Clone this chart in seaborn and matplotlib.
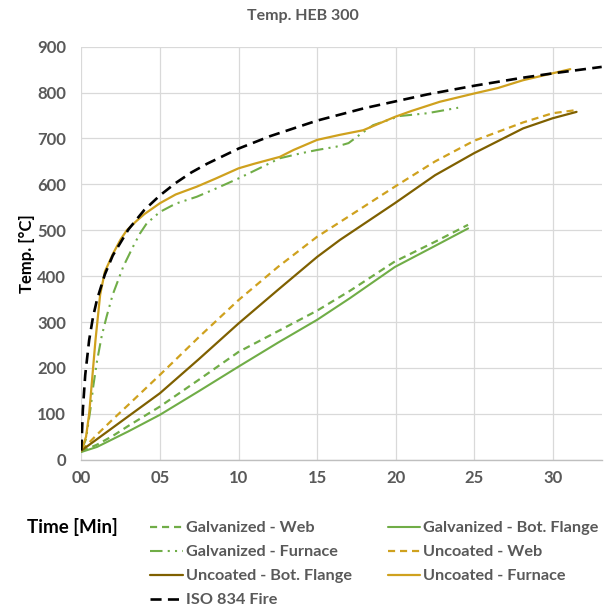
import matplotlib
matplotlib.use("Agg")
import matplotlib.pyplot as plt
import seaborn as sns
import numpy as np

# ---------------- data ----------------
t_gw = [0, 1, 2, 3, 5, 7.5, 10, 12.5, 15, 17.08, 19.94, 22.5, 24.6]
T_gw = [18, 33, 52, 74, 116, 175, 235, 280, 325, 368, 432, 475, 512]

t_gbf = [0, 1, 2, 3, 5, 7.5, 10, 12.5, 15, 17.08, 19.94, 22.5, 24.6]
T_gbf = [17, 28, 45, 62, 98, 150, 203, 255, 305, 352, 420, 466, 504]

t_gf = [0, 0.3, 0.6, 0.76, 1.0, 1.3, 1.61, 2.0, 2.67, 3.3, 3.73, 4.16, 5, 6, 7.34,
        8.5, 10, 11.5, 12.63, 14, 15, 16.2, 17.0, 17.7, 18.56, 20.26, 22, 23.97]
T_gf = [20, 45, 115, 160, 215, 270, 312, 360, 421, 465, 493, 515, 540, 558, 573,
        590, 613, 638, 657, 668, 675, 682, 690, 708, 729, 749, 755, 767]

t_uw = [0, 1, 2, 3, 5, 7.5, 10, 12.5, 15, 16.5, 19.94, 22.5, 24.98, 28.1, 29.97, 31.5]
T_uw = [20, 55, 88, 120, 185, 268, 348, 420, 486, 519, 595, 650, 695, 735, 755, 762]

t_ubf = [0, 1, 2, 3, 5, 7.5, 10, 12.5, 15, 16.45, 19.94, 22.5, 24.98, 28.1, 29.97, 31.5]
T_ubf = [20, 45, 70, 95, 145, 220, 297, 370, 442, 479, 559, 620, 668, 722, 744, 758]

t_uf = [0, 0.3, 0.5, 0.7, 0.9, 1.2, 1.5, 2.03, 2.5, 2.89, 3.5, 4, 5, 6, 7.34, 8.5,
        10, 11, 12.63, 13.5, 15, 16.45, 17.93, 19.94, 21, 22.8, 24.98, 26.5, 28.1,
        29.97, 31.1]
T_uf = [20, 50, 100, 180, 260, 360, 410, 450, 480, 500, 520, 535, 559, 578, 595, 612,
        635, 645, 660, 675, 697, 708, 718, 747, 760, 780, 798, 810, 827, 842, 851]

t_iso = [0, 0.1, 0.25, 0.5, 0.75, 1, 1.5, 2, 3, 4, 5, 6, 7, 8, 10, 12, 15, 18, 20, 22,
         25, 28, 30, 33.1]
T_iso = [20, 110, 185, 261, 312, 349, 404, 445, 502, 544, 576, 603, 626, 645, 678, 705,
         739, 766, 781, 796, 815, 832, 842, 856]

x_ticks = [0, 5, 10, 15, 20, 25, 30]
x_tick_labels = ["00", "05", "10", "15", "20", "25", "30"]
y_ticks = [0, 100, 200, 300, 400, 500, 600, 700, 800, 900]

# ---------------- style ----------------
sns.set_theme(style="whitegrid")
plt.rcParams['font.family'] = ['Lato', 'DejaVu Sans']

GREEN = "#70AD47"
GOLD = "#CFA11E"
BROWN = "#7F6000"
GREY_TXT = "#595959"

fig = plt.figure(figsize=(6.10, 6.08), dpi=100)
ax = fig.add_axes([81.3 / 610, 1 - 459.8 / 608, (601.7 - 81.3) / 610, (459.8 - 46.7) / 608])

series = [
    ("Galvanized - Web", t_gw, T_gw, GREEN, 1.6, (3.2, 2.2)),
    ("Galvanized - Bot. Flange", t_gbf, T_gbf, GREEN, 1.5, None),
    ("Galvanized - Furnace", t_gf, T_gf, GREEN, 1.5, (6, 2.5, 1, 2.5, 1, 2.5)),
    ("Uncoated - Web", t_uw, T_uw, GOLD, 1.6, (3.2, 2.2)),
    ("Uncoated - Bot. Flange", t_ubf, T_ubf, BROWN, 1.6, None),
    ("Uncoated - Furnace", t_uf, T_uf, GOLD, 1.6, None),
    ("ISO 834 Fire", t_iso, T_iso, "black", 1.9, (4.2, 2.4)),
]

handles = {}
for name, tx, ty, col, lw, dash in series:
    sns.lineplot(x=tx, y=ty, ax=ax, color=col, linewidth=lw, sort=False,
                 estimator=None, label=name, legend=False)
    ln = ax.lines[-1]
    if dash is not None:
        ln.set_dashes(dash)
    handles[name] = ln

ax.set_xlim(0, 33.1)
ax.set_ylim(0, 900)
ax.set_xticks(x_ticks)
ax.set_xticklabels(x_tick_labels)
ax.set_yticks(y_ticks)
ax.grid(True, color="#D9D9D9", linewidth=0.9)
for s in ["top", "right", "left"]:
    ax.spines[s].set_visible(False)
ax.spines["bottom"].set_color("#BFBFBF")
ax.spines["bottom"].set_linewidth(1.0)
ax.tick_params(axis="both", length=0, labelsize=12, labelcolor=GREY_TXT)
ax.tick_params(axis="y", pad=11)
ax.tick_params(axis="x", pad=7)
for lab in ax.get_xticklabels() + ax.get_yticklabels():
    lab.set_fontweight("bold")
ax.set_xlabel("")
ax.set_ylabel("Temp. [°C]", fontsize=12, fontweight="bold", color="black", labelpad=1.5)

fig.text(0.497, 1 - 16 / 608, "Temp. HEB 300", ha="center", va="center",
         fontsize=11.5, fontweight="bold", color=GREY_TXT)
fig.text(27 / 610, 1 - 527 / 608, "Time [Min]", ha="left", va="center",
         fontsize=13.5, fontweight="bold", color="black")

col1 = ["Galvanized - Web", "Galvanized - Furnace", "Uncoated - Bot. Flange", "ISO 834 Fire"]
col2 = ["Galvanized - Bot. Flange", "Uncoated - Web", "Uncoated - Furnace"]
for names, x0 in [(col1, 150), (col2, 387.5)]:
    leg = fig.legend([handles[n] for n in names], names, loc="upper left",
                     bbox_to_anchor=(x0 / 610, 1 - 521 / 608), frameon=False,
                     borderaxespad=0, borderpad=0, handlelength=2.0,
                     handletextpad=0.2, labelspacing=0.59,
                     prop={"family": ["Lato", "DejaVu Sans"], "weight": "bold", "size": 11.7})
    for txt in leg.get_texts():
        txt.set_color(GREY_TXT)

fig.savefig("out.png", dpi=100)
